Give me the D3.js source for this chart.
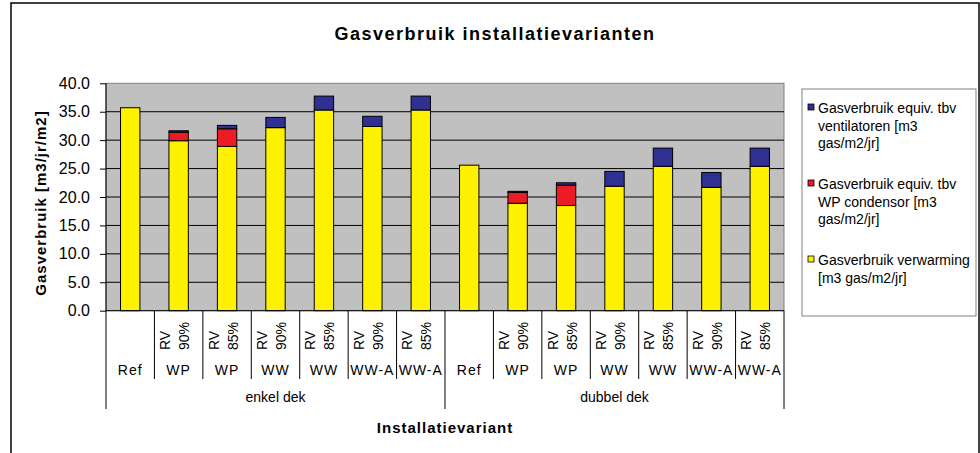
<!DOCTYPE html>
<html>
<head>
<meta charset="utf-8">
<script src="https://cdn.jsdelivr.net/npm/d3@7"></script>
<style>
    html, body { margin: 0; padding: 0; background: #fff; }
    svg { display: block; font-family: "Liberation Sans", Arial, sans-serif; }
</style>
</head>
<body>
<div id="chart"></div>
<script>
"use strict";

var groups = ["enkel dek", "dubbel dek"];
var variants = ["Ref", "WP", "WP", "WW", "WW", "WW-A", "WW-A"];
var rvLabels = ["", "RV 90%", "RV 85%", "RV 90%", "RV 85%", "RV 90%", "RV 85%"];

// enkel dek (7) then dubbel dek (7)
var verwarming = [35.7, 29.9, 28.9, 32.2, 35.3, 32.4, 35.3, 25.6, 18.9, 18.5, 21.9, 25.4, 21.7, 25.4];
var condensor = [0, 1.5, 3.1, 0, 0, 0, 0, 0, 1.9, 3.6, 0, 0, 0, 0];
var ventilatoren = [0, 0.25, 0.6, 1.8, 2.45, 1.8, 2.45, 0, 0.2, 0.4, 2.6, 3.2, 2.6, 3.2];

var yTicks = [0, 5, 10, 15, 20, 25, 30, 35, 40];

var seriesKeys = ["verwarming", "condensor", "ventilatoren"];
var seriesColors = { verwarming: "#FFF200", condensor: "#ED1C24", ventilatoren: "#2E3192" };
var legendItems = [
    { key: "ventilatoren", lines: ["Gasverbruik equiv. tbv", "ventilatoren [m3", "gas/m2/jr]"] },
    { key: "condensor", lines: ["Gasverbruik equiv. tbv", "WP condensor [m3", "gas/m2/jr]"] },
    { key: "verwarming", lines: ["Gasverbruik verwarming", "[m3 gas/m2/jr]"] }
];

var W = 980, H = 453,
    plotLeft = 106, plotRight = 784, plotTop = 83.3, plotBottom = 310.7;

var rows = [];
groups.forEach(function (g, gi) {
    variants.forEach(function (v, vi) {
        var i = gi * variants.length + vi;
        rows.push({
            id: String(i), group: g, variant: v, rv: rvLabels[vi],
            verwarming: verwarming[i], condensor: condensor[i], ventilatoren: ventilatoren[i]
        });
    });
});

var svg = d3.select("#chart").append("svg")
    .attr("width", W)
    .attr("height", H);

svg.append("rect")
    .attr("x", 11).attr("y", 3)
    .attr("width", 968).attr("height", 470)
    .attr("fill", "#fff")
    .attr("stroke", "#000")
    .attr("stroke-width", 1.5);

var x = d3.scaleBand()
    .domain(rows.map(function (d) { return d.id; }))
    .range([plotLeft, plotRight])
    .paddingInner(0.6)
    .paddingOuter(0.3);

var y = d3.scaleLinear()
    .domain([0, 40])
    .range([plotBottom, plotTop]);

// plot area
svg.append("rect")
    .attr("x", plotLeft).attr("y", plotTop)
    .attr("width", plotRight - plotLeft).attr("height", plotBottom - plotTop)
    .attr("fill", "#C0C0C0")
    .attr("stroke", "#808080")
    .attr("stroke-width", 1);

svg.append("g")
    .selectAll("line")
    .data(yTicks.filter(function (t) { return t > 0 && t < 40; }))
    .enter()
    .append("line")
    .attr("x1", plotLeft).attr("x2", plotRight)
    .attr("y1", function (d) { return y(d); })
    .attr("y2", function (d) { return y(d); })
    .attr("stroke", "#000")
    .attr("stroke-width", 1);

var stack = d3.stack().keys(seriesKeys)(rows);

svg.append("g")
    .selectAll("g")
    .data(stack)
    .enter()
    .append("g")
    .attr("fill", function (s) { return seriesColors[s.key]; })
    .selectAll("rect")
    .data(function (s) { return s.filter(function (d) { return d[1] - d[0] > 0; }); })
    .enter()
    .append("rect")
    .attr("x", function (d) { return x(d.data.id); })
    .attr("width", x.bandwidth())
    .attr("y", function (d) { return y(d[1]); })
    .attr("height", function (d) { return y(d[0]) - y(d[1]); })
    .attr("stroke", "#000")
    .attr("stroke-width", 1);

// y axis
var yAxis = svg.append("g")
    .attr("transform", "translate(" + plotLeft + ",0)")
    .call(d3.axisLeft(y).tickValues(yTicks).tickFormat(d3.format(".1f")).tickSize(6).tickPadding(10));
yAxis.select(".domain").remove();
yAxis.selectAll("line").attr("stroke", "#000");
yAxis.selectAll("text")
    .attr("font-size", 16)
    .attr("font-family", "\"Liberation Sans\", Arial, sans-serif")
    .attr("fill", "#000");
svg.append("line")
    .attr("x1", plotLeft).attr("x2", plotLeft)
    .attr("y1", plotTop).attr("y2", 409)
    .attr("stroke", "#000");

// category axis
svg.append("line")
    .attr("x1", plotLeft).attr("x2", plotRight)
    .attr("y1", plotBottom).attr("y2", plotBottom)
    .attr("stroke", "#000");

var step = x.step();
var cats = svg.append("g");
rows.forEach(function (d, i) {
    var x0 = x(d.id) - step * 0.3,
        cx = x0 + step / 2;
    if (i > 0) {
        var groupEdge = i % variants.length === 0;
        cats.append("line")
            .attr("x1", x0).attr("x2", x0)
            .attr("y1", plotBottom).attr("y2", groupEdge ? 409 : 379)
            .attr("stroke", "#000");
    }
    if (d.rv) {
        d.rv.split(" ").forEach(function (part, k) {
            cats.append("text")
                .attr("transform", "translate(" + (cx - 8.5 + k * 19) + ",350) rotate(-90)")
                .attr("font-size", 14)
                .text(part);
        });
    }
    cats.append("text")
        .attr("x", cx).attr("y", 375)
        .attr("text-anchor", "middle")
        .attr("font-size", 14)
        .attr("letter-spacing", 1)
        .text(d.variant);
});
svg.append("line")
    .attr("x1", plotRight).attr("x2", plotRight)
    .attr("y1", plotBottom).attr("y2", 409)
    .attr("stroke", "#000");

groups.forEach(function (g, gi) {
    var first = rows[gi * variants.length],
        last = rows[gi * variants.length + variants.length - 1],
        gx = (x(first.id) + x(last.id) + x.bandwidth()) / 2;
    svg.append("text")
        .attr("x", gx).attr("y", 402)
        .attr("text-anchor", "middle")
        .attr("font-size", 14)
        .text(g);
});

// titles
svg.append("text")
    .attr("x", 495).attr("y", 40)
    .attr("text-anchor", "middle")
    .attr("font-size", 18)
    .attr("font-weight", "bold")
    .attr("letter-spacing", 1.5)
    .text("Gasverbruik installatievarianten");

svg.append("text")
    .attr("transform", "translate(46," + ((plotTop + plotBottom) / 2 + 6) + ") rotate(-90)")
    .attr("text-anchor", "middle")
    .attr("font-size", 15)
    .attr("font-weight", "bold")
    .attr("letter-spacing", 1)
    .text("Gasverbruik [m3/jr/m2]");

svg.append("text")
    .attr("x", 445).attr("y", 433)
    .attr("text-anchor", "middle")
    .attr("font-size", 15)
    .attr("font-weight", "bold")
    .attr("letter-spacing", 1)
    .text("Installatievariant");

// legend
var legend = svg.append("g");
legend.append("rect")
    .attr("x", 802).attr("y", 89)
    .attr("width", 174).attr("height", 227)
    .attr("fill", "#fff")
    .attr("stroke", "#808080");

legendItems.forEach(function (item, i) {
    var by = 113 + i * 76;
    legend.append("rect")
        .attr("x", 808).attr("y", by - 9)
        .attr("width", 6).attr("height", 6)
        .attr("fill", seriesColors[item.key])
        .attr("stroke", "#000")
        .attr("stroke-width", 0.8);
    item.lines.forEach(function (line, k) {
        legend.append("text")
            .attr("x", 818).attr("y", by + k * 17.5)
            .attr("font-size", 14)
            .text(line);
    });
});
</script>
</body>
</html>
